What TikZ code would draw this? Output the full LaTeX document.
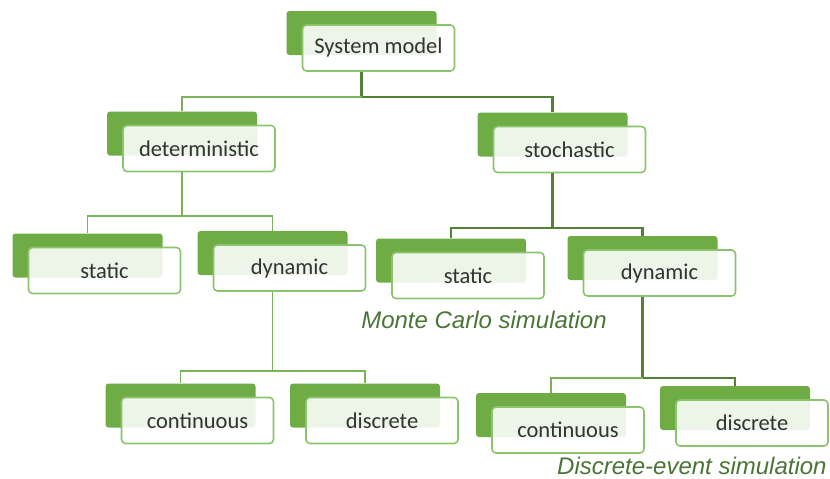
\documentclass[tikz,border=0pt]{standalone}
\usepackage{fontspec}
\setmainfont{Carlito}
\newfontfamily\notefont{Liberation Sans}
\usetikzlibrary{calc,backgrounds}
\definecolor{gback}{HTML}{6FAC46}
\definecolor{gborder}{HTML}{8CC46E}
\definecolor{gline}{HTML}{7BB35A}
\definecolor{gthick}{HTML}{548235}
\definecolor{gnote}{HTML}{4A7536}
\definecolor{labeltext}{HTML}{333333}
\tikzset{
  frontbox/.style={draw=gborder, line width=1.6pt, fill=white, fill opacity=0.88, text opacity=1,
    rounded corners=4pt, minimum width=152pt, minimum height=46pt, inner sep=0pt,
    font=\fontsize{22.5}{26}\selectfont, text=labeltext},
  backbox/.style={fill=gback, rounded corners=3pt, minimum width=150pt, minimum height=44pt, inner sep=0pt},
  conthin/.style={draw=gline, line width=1.6pt},
  conthick/.style={draw=gthick, line width=2.3pt},
  note/.style={font=\notefont\itshape\fontsize{24}{27}\selectfont, text=gnote, inner sep=0pt}
}
\newcommand\gbox[3]{%
  \node[frontbox] (#1) at (#2) {#3};
  \begin{pgfonlayer}{background}
    \node[backbox] (#1b) at ($(#1.center)+(-17,-15)$) {};
  \end{pgfonlayer}
}
\begin{document}
\begin{tikzpicture}[x=1pt,y=-1pt]
\useasboundingbox (0,0) rectangle (830,479);
\gbox{sys}{378.5,48}{System model}
\gbox{det}{199,148.5}{deterministic}
\gbox{sto}{569.5,149.5}{stochastic}
\gbox{lsta}{104.5,270.5}{static}
\gbox{ldyn}{289.5,268}{dynamic}
\gbox{rsta}{468,275.5}{static}
\gbox{rdyn}{659.5,273}{dynamic}
\gbox{lcon}{197.5,420.5}{continuous}
\gbox{ldis}{382,420.5}{discrete}
\gbox{rcon}{568,430}{continuous}
\gbox{rdis}{752,423}{discrete}
% level 1
\draw[conthick] (sysb.center |- sys.south) -- ++(0,25) coordinate (j1);
\draw[conthin] (j1) -| (detb.north);
\draw[conthick] (j1) -| (stob.north);
% deterministic
\draw[conthin] (detb.center |- det.south) -- ++(0,43.5) coordinate (j2);
\draw[conthin] (j2) -| (lstab.north);
\draw[conthin] (j2) -| (ldynb.north);
% stochastic
\draw[conthick] (stob.center |- sto.south) -- ++(0,54.5) coordinate (j3);
\draw[conthick] (j3) -| (rstab.north);
\draw[conthick] (j3) -| (rdynb.north);
% left dynamic
\draw[conthin] (ldynb.center |- ldyn.south) -- ++(0,79) coordinate (j4);
\draw[conthin] (j4) -| (lconb.north);
\draw[conthin] (j4) -| (ldisb.north);
% right dynamic
\draw[conthick] (rdynb.center |- rdyn.south) -- ++(0,81) coordinate (j5);
\draw[conthin] (j5) -| (rconb.north);
\draw[conthick] (j5) -| (rdisb.north);
% notes
\node[note, anchor=base] (mc) at (484,328) {Monte Carlo simulation};
\node[note, anchor=base west] (des) at (557,474) {Discrete-event simulation};
\end{tikzpicture}
\end{document}
